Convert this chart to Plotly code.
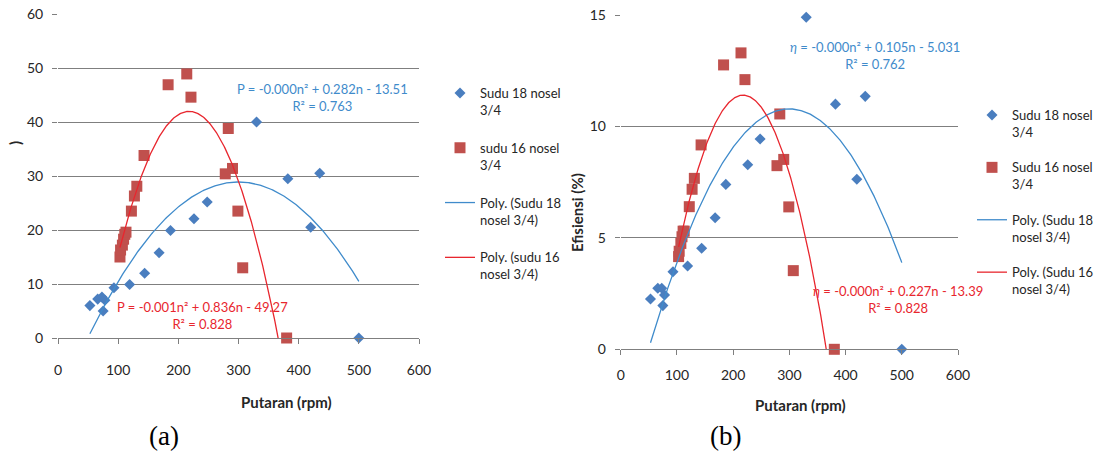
import numpy as np
import plotly.graph_objects as go

W, H = 1098, 454

# ---------------- data ----------------
rpm_18 = [53, 66, 73, 75, 78, 93, 119, 144, 168, 187, 226, 248, 330, 382, 420, 435, 500]
daya_18 = [6.0, 7.2, 7.6, 5.0, 7.0, 9.3, 9.9, 12.0, 15.8, 19.9, 22.1, 25.2, 40.0, 29.5, 20.5, 30.5, 0.0]
eff_18 = [2.26, 2.74, 2.74, 1.96, 2.44, 3.48, 3.74, 4.53, 5.90, 7.40, 8.28, 9.44, 14.9, 11.0, 7.63, 11.35, 0.0]

rpm_16 = [103, 104, 107, 109, 111, 113, 122, 127, 131, 143, 183, 214, 221, 278, 283, 290, 299, 307, 380]
daya_16 = [15.0, 16.3, 17.2, 18.3, 19.2, 19.6, 23.5, 26.3, 28.1, 33.8, 46.9, 48.9, 44.6, 30.4, 38.8, 31.4, 23.5, 13.0, 0.0]
eff_16 = [4.16, 4.40, 4.75, 5.05, 5.30, 5.30, 6.40, 7.18, 7.67, 9.17, 12.76, 13.30, 12.10, 8.24, 10.56, 8.52, 6.39, 3.53, 0.0]

x_ticks = [0, 100, 200, 300, 400, 500, 600]
ya_ticks = [0, 10, 20, 30, 40, 50, 60]
yb_ticks = [0, 5, 10, 15]

names_a = ["Sudu 18 nosel<br>3/4", "sudu 16 nosel<br>3/4", "Poly. (Sudu 18<br>nosel 3/4)", "Poly. (sudu 16<br>nosel 3/4)"]
names_b = ["Sudu 18 nosel<br>3/4", "Sudu 16 nosel<br>3/4", "Poly. (Sudu 18<br>nosel 3/4)", "Poly. (Sudu 16<br>nosel 3/4)"]

eq_a_18 = "P = -0.000n² + 0.282n - 13.51<br>R² = 0.763"
eq_a_16 = "P = -0.001n² + 0.836n - 49.27<br>R² = 0.828"
eq_b_18 = "<i>η</i> = -0.000n² + 0.105n - 5.031<br>R² = 0.762"
eq_b_16 = "<i>η</i> = -0.000n² + 0.227n - 13.39<br>R² = 0.828"

# ---------------- styles ----------------
FONT = "Lato, Roboto, sans-serif"
SERIF = "Liberation Serif, Times New Roman, serif"
BLUE_M = "#4A7EBF"
RED_M = "#C0504D"
BLUE_L = "#3F8BCB"
RED_L = "#E8262E"
GRID = "#7f7f7f"
TXT = "#262626"


def trend(x, y):
    c = np.polyfit(np.array(x, float), np.array(y, float), 2)
    xs = np.linspace(min(x), max(x), 300)
    return xs, np.polyval(c, xs)


def px(x):
    return x / W


def py(y):
    return 1 - y / H


fig = go.Figure()

for (xa, ya, xr, yr, axx, axy, leg, names) in [
    (rpm_18, daya_18, rpm_16, daya_16, "x", "y", "legend", names_a),
    (rpm_18, eff_18, rpm_16, eff_16, "x2", "y2", "legend2", names_b),
]:
    fig.add_trace(go.Scatter(x=xa, y=ya, mode="markers", name=names[0], xaxis=axx, yaxis=axy,
                             marker=dict(symbol="diamond", size=8.5, color=BLUE_M),
                             cliponaxis=False, legend=leg, legendgroup=leg + "a"))
    fig.add_trace(go.Scatter(x=xr, y=yr, mode="markers", name=names[1], xaxis=axx, yaxis=axy,
                             marker=dict(symbol="square", size=11, color=RED_M),
                             cliponaxis=False, legend=leg, legendgroup=leg + "b"))
    tx, ty = trend(xa, ya)
    fig.add_trace(go.Scatter(x=tx, y=ty, mode="lines", name=names[2], xaxis=axx, yaxis=axy,
                             line=dict(color=BLUE_L, width=1.3), legend=leg, legendgroup=leg + "c"))
    tx, ty = trend(xr, yr)
    fig.add_trace(go.Scatter(x=tx, y=ty, mode="lines", name=names[3], xaxis=axx, yaxis=axy,
                             line=dict(color=RED_L, width=1.3), legend=leg, legendgroup=leg + "d"))

xcommon = dict(range=[0, 600], tickvals=x_ticks, showgrid=False, zeroline=False,
               showline=True, linecolor=GRID, linewidth=1, ticks="outside", ticklen=5,
               tickcolor=GRID, tickfont=dict(family=FONT, size=14, color=TXT))
ycommon = dict(showgrid=True, gridcolor=GRID, gridwidth=1.2, zeroline=False, showline=False,
               ticks="outside", ticklen=5, tickcolor=GRID,
               tickfont=dict(family=FONT, size=14, color=TXT), ticklabelstandoff=6)

legcommon = dict(xanchor="left", yanchor="top", valign="top", bgcolor="rgba(0,0,0,0)",
                 font=dict(family=FONT, size=13, color=TXT), itemclick=False)

fig.update_layout(
    width=W, height=H, margin=dict(l=0, r=0, t=0, b=0, autoexpand=False),
    paper_bgcolor="white", plot_bgcolor="white",
    xaxis=dict(domain=[px(58), px(419)], anchor="y", ticklabelstandoff=14, **xcommon),
    yaxis=dict(domain=[py(338), py(14)], anchor="x", range=[0, 60], tickvals=ya_ticks, **ycommon),
    xaxis2=dict(domain=[px(620.7), px(958)], anchor="y2", ticklabelstandoff=8, **xcommon),
    yaxis2=dict(domain=[py(349.3), py(15)], anchor="x2", range=[0, 15], tickvals=yb_ticks, **ycommon),
    legend=dict(x=px(440), y=py(78), tracegroupgap=18, **legcommon),
    legend2=dict(x=px(972), y=py(100), tracegroupgap=15.6, **legcommon),
    showlegend=True,
)

ann = []
def A(text, x, y, color=TXT, size=13, family=FONT, angle=0, bold=False):
    if bold:
        text = "<b>" + text + "</b>"
    ann.append(dict(text=text, x=px(x), y=py(y), xref="paper", yref="paper", showarrow=False,
                    xanchor="center", yanchor="middle", textangle=angle,
                    font=dict(family=family, size=size, color=color)))

A(eq_a_18, 322, 97, color=BLUE_L)
A(eq_a_16, 202, 315.5, color=RED_L)
A(eq_b_18, 875, 56, color=BLUE_L)
A(eq_b_16, 898, 299, color=RED_L)
A("Putaran (rpm)", 286, 402, bold=True, size=15)
A("Putaran (rpm)", 800, 405, bold=True, size=15)
A(")", 15, 143, angle=-90, bold=True, size=15)
A("Efisiensi (%)", 577, 213, angle=-90, bold=True, size=15)
A("(a)", 164, 435.5, family=SERIF, size=27, color="black")
A("(b)", 725, 435.5, family=SERIF, size=27, color="black")
fig.update_layout(annotations=ann)

fig.write_html("out.html")
